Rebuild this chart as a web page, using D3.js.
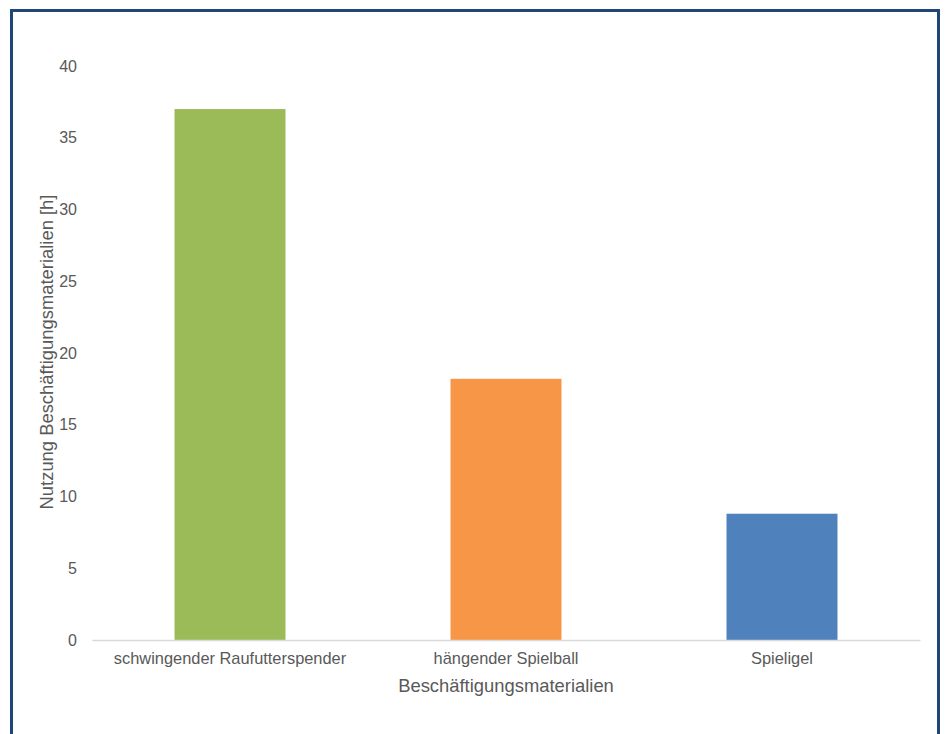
<!DOCTYPE html>
<html lang="de">
<head>
    <meta charset="UTF-8">
    <title>Beschäftigungsmaterialien</title>
    <style>
        body { margin: 0; background: #fff; }
        svg { display: block; font-family: "Liberation Sans", Arial, sans-serif; }
    </style>
    <script src="https://d3js.org/d3.v7.min.js"></script>
</head>
<body>
    <div id="chart"></div>
    <script>
        const categories = ["schwingender Raufutterspender", "hängender Spielball", "Spieligel"]
        const values = [37.0, 18.2, 8.8]
        const barColors = ["#9bbb59", "#f79646", "#4f81bd"]
        const yTicks = [0, 5, 10, 15, 20, 25, 30, 35, 40]

        const xLabel = "Beschäftigungsmaterialien"
        const yLabel = "Nutzung Beschäftigungsmaterialien [h]"

        const width = 947, height = 734
        const margin = { top: 66, right: 27, bottom: 94, left: 92 }
        const innerWidth = width - margin.left - margin.right
        const innerHeight = height - margin.top - margin.bottom

        const svg = d3.select("#chart").append("svg")
            .attr("width", width).attr("height", height)

        // outer frame (bottom edge runs off the page like in the original)
        svg.append("rect")
            .attr("x", 11.5).attr("y", 10.5)
            .attr("width", 927).attr("height", 740)
            .attr("fill", "none")
            .attr("stroke", "#1f4677")
            .attr("stroke-width", 3)

        const g = svg.append("g").attr("transform", `translate(${margin.left}, ${margin.top})`)

        const xScale = d3.scaleBand()
            .domain(categories)
            .range([0, innerWidth])
            .paddingInner(0.598)
            .paddingOuter(0.299)

        const yScale = d3.scaleLinear()
            .domain([0, 40])
            .range([innerHeight, 0])

        // y axis: labels only
        const yAxis = d3.axisLeft(yScale).tickValues(yTicks).tickSize(0).tickPadding(15)
        const yAxisG = g.append("g").call(yAxis)
        yAxisG.select(".domain").remove()
        yAxisG.selectAll("text")
            .attr("font-size", 16)
            .attr("fill", "#595959")
            .style("font-family", "Liberation Sans, Arial, sans-serif")

        // bars
        g.selectAll(".bar").data(values).enter().append("rect")
            .attr("class", "bar")
            .attr("x", (d, i) => xScale(categories[i]))
            .attr("y", d => yScale(d))
            .attr("width", xScale.bandwidth())
            .attr("height", d => innerHeight - yScale(d))
            .attr("fill", (d, i) => barColors[i])

        // x axis
        const xAxis = d3.axisBottom(xScale).tickSize(0).tickPadding(12)
        const xAxisG = g.append("g").attr("transform", `translate(0, ${innerHeight})`).call(xAxis)
        xAxisG.select(".domain").attr("stroke", "#d9d9d9").attr("stroke-width", 1.3)
        xAxisG.selectAll("text")
            .attr("font-size", 16.4)
            .attr("fill", "#595959")
            .style("font-family", "Liberation Sans, Arial, sans-serif")

        // axis titles
        g.append("text")
            .attr("x", innerWidth / 2)
            .attr("y", innerHeight + 52)
            .attr("text-anchor", "middle")
            .attr("font-size", 18.4)
            .attr("fill", "#595959")
            .text(xLabel)

        g.append("text")
            .attr("transform", "rotate(-90)")
            .attr("x", -(innerHeight / 2) + 1)
            .attr("y", -39)
            .attr("text-anchor", "middle")
            .attr("font-size", 18.4)
            .attr("fill", "#595959")
            .text(yLabel)
    </script>
</body>
</html>
